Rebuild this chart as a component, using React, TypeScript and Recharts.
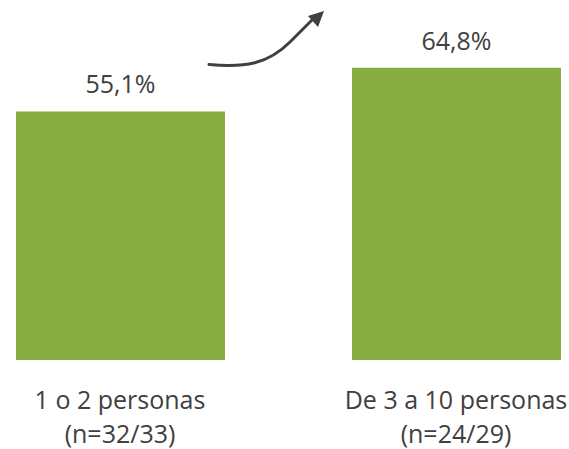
import React from "react";
import { Bar, BarChart, LabelList, XAxis, YAxis } from "recharts";

const categories = ["1 o 2 personas", "De 3 a 10 personas"];
const sampleSizes = ["(n=32/33)", "(n=24/29)"];
const values = [55.1, 64.8];

const BAR_COLOR = "#87AC3F";
const TEXT_COLOR = "#404040";
const FONT = "'Open Sans', 'Noto Sans', sans-serif";

const data = categories.map((c, i) => ({ name: c, n: sampleSizes[i], value: values[i] }));

function fmtPct(v: number) {
  return v.toFixed(1).replace(".", ",") + "%";
}

function CategoryTick(props: any) {
  const { x, y, payload } = props;
  const i = payload.index;
  return (
    <text x={x} y={y} textAnchor="middle" fill={TEXT_COLOR} fontSize={25} fontFamily={FONT}>
      <tspan x={x} y={y + 41}>{categories[i]}</tspan>
      <tspan x={x} y={y + 75}>{sampleSizes[i]}</tspan>
    </text>
  );
}

export default function App() {
  return (
    <div
      style={{
        position: "absolute",
        left: 0,
        top: 0,
        width: 569,
        height: 449,
        overflow: "hidden",
        background: "#fff",
        fontFamily: FONT,
      }}
    >
      <div style={{ position: "absolute", left: -48.5, top: 0 }}>
        <BarChart
          width={672}
          height={449}
          data={data}
          margin={{ top: 44.3, right: 0, bottom: 0, left: 0 }}
        >
          <XAxis
            dataKey="name"
            axisLine={false}
            tickLine={false}
            height={89}
            interval={0}
            tick={<CategoryTick />}
          />
          <YAxis hide domain={[0, 70]} />
          <Bar dataKey="value" fill={BAR_COLOR} barSize={209} isAnimationActive={false}>
            <LabelList
              dataKey="value"
              position="top"
              offset={18}
              formatter={(v: any) => fmtPct(Number(v))}
              fill={TEXT_COLOR}
              fontSize={25}
              fontFamily={FONT}
            />
          </Bar>
        </BarChart>
      </div>
      {/* flecha de tendencia */}
      <svg
        width={569}
        height={449}
        style={{ position: "absolute", left: 0, top: 0, pointerEvents: "none" }}
      >
        <path
          d="M209 64.5 C 245 68, 268 64, 290 42 L 312 20"
          fill="none"
          stroke={TEXT_COLOR}
          strokeWidth={3}
          strokeLinecap="round"
        />
        <polygon points="324,11 308,16 318,27" fill={TEXT_COLOR} />
      </svg>
    </div>
  );
}
